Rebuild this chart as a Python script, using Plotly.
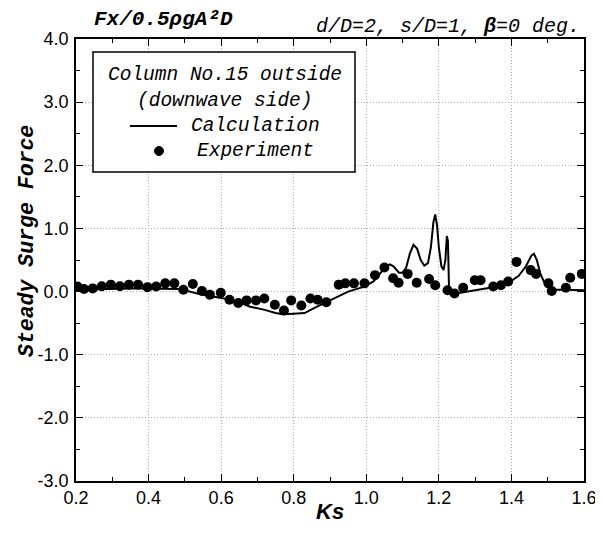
import plotly.graph_objects as go

# Experiment (Ks, steady surge force)
exp_ks = [0.204, 0.222, 0.246, 0.271, 0.296, 0.321, 0.346, 0.371, 0.397, 0.421,
          0.446, 0.471, 0.496, 0.522, 0.547, 0.569, 0.599, 0.623, 0.647, 0.670,
          0.696, 0.719, 0.748, 0.773, 0.793, 0.821, 0.846, 0.866, 0.890, 0.924,
          0.942, 0.966, 0.995, 1.024, 1.050, 1.074, 1.089, 1.114, 1.139, 1.173,
          1.190, 1.224, 1.243, 1.267, 1.299, 1.315, 1.350, 1.371, 1.391, 1.414,
          1.453, 1.468, 1.502, 1.511, 1.550, 1.562, 1.594]
exp_val = [0.08, 0.04, 0.05, 0.085, 0.11, 0.085, 0.11, 0.11, 0.07, 0.08,
           0.13, 0.13, 0.03, 0.12, 0.01, -0.05, -0.02, -0.13, -0.18, -0.14,
           -0.14, -0.11, -0.21, -0.30, -0.14, -0.22, -0.11, -0.13, -0.17, 0.11,
           0.13, 0.13, 0.13, 0.26, 0.38, 0.21, 0.14, 0.28, 0.14, 0.20,
           0.10, 0.02, -0.03, 0.06, 0.18, 0.18, 0.08, 0.10, 0.16, 0.47,
           0.34, 0.28, 0.13, 0.01, 0.06, 0.22, 0.28]

# Calculation
calc_ks = [0.20, 0.25, 0.30, 0.35, 0.40, 0.45, 0.48, 0.50, 0.54, 0.60,
           0.65, 0.68, 0.72, 0.75, 0.77, 0.80, 0.83, 0.86, 0.89, 0.92,
           0.95, 0.99, 1.02, 1.04, 1.055, 1.065, 1.075, 1.09, 1.10, 1.11,
           1.12, 1.13, 1.14, 1.15, 1.16, 1.17, 1.178, 1.185, 1.19, 1.195,
           1.20, 1.207, 1.213, 1.218, 1.222, 1.225, 1.228, 1.235, 1.26, 1.30,
           1.35, 1.39, 1.42, 1.44, 1.455, 1.462, 1.47, 1.48, 1.49, 1.50,
           1.52, 1.55, 1.58, 1.60]
calc_val = [0.03, 0.04, 0.05, 0.05, 0.05, 0.05, 0.04, 0.02, -0.04, -0.10,
            -0.17, -0.24, -0.29, -0.34, -0.36, -0.35, -0.34, -0.25, -0.17, -0.09,
            0.00, 0.07, 0.16, 0.30, 0.40, 0.43, 0.40, 0.30, 0.30, 0.38,
            0.60, 0.74, 0.68, 0.50, 0.41, 0.45, 0.70, 1.10, 1.22, 1.05,
            0.70, 0.40, 0.34, 0.50, 0.88, 0.80, 0.05, -0.03, -0.02, 0.02,
            0.07, 0.13, 0.25, 0.40, 0.57, 0.60, 0.50, 0.28, 0.15, 0.07,
            0.03, 0.03, 0.02, 0.02]

x_ticks = [0.2, 0.4, 0.6, 0.8, 1.0, 1.2, 1.4, 1.6]
y_ticks = [-3.0, -2.0, -1.0, 0.0, 1.0, 2.0, 3.0, 4.0]
x_labels = [f"{v:.1f}" for v in x_ticks]
y_labels = [f"{v:.1f}" for v in y_ticks]

MONO = "Liberation Mono, Courier New, monospace"
SANS = "Liberation Sans, Arial, Helvetica, sans-serif"

fig = go.Figure()
fig.add_trace(go.Scatter(x=calc_ks, y=calc_val, mode="lines",
                         line=dict(color="black", width=2), showlegend=False))
fig.add_trace(go.Scatter(x=exp_ks, y=exp_val, mode="markers",
                         marker=dict(color="black", size=10, symbol="circle"),
                         showlegend=False))

axis_common = dict(
    showline=True, linecolor="black", linewidth=1.5, mirror="ticks",
    ticks="inside", ticklen=7, tickwidth=1, tickcolor="black",
    showgrid=True, gridcolor="#aaaaaa", griddash="1px,2px", gridwidth=1,
    zeroline=False,
    tickfont=dict(family=SANS, size=18, color="black"),
)

fig.update_xaxes(range=[0.2, 1.6], tickvals=x_ticks, ticktext=x_labels,
                 ticklabelstandoff=0,
                 minor=dict(ticks="inside", ticklen=4, dtick=0.1, tick0=0.2,
                            tickcolor="black", showgrid=False),
                 **axis_common)
fig.update_yaxes(range=[-3.0, 4.0], tickvals=y_ticks, ticktext=y_labels,
                 ticklabelstandoff=2,
                 minor=dict(ticks="inside", ticklen=4, dtick=0.5, tick0=0,
                            tickcolor="black", showgrid=False),
                 **axis_common)

# plot area on screen (the page body adds an 8px offset)
OFF = 8
SL, SR, ST, SB = 76, 584, 39, 481
PW, PH = SR - SL, SB - ST

def px(x):
    return (x - SL) / PW

def py(y):
    return (SB - y) / PH

def note(text, x, y, xa, font, angle=0):
    return dict(text=text, x=px(x), y=py(y), xref="paper", yref="paper",
                xanchor=xa, yanchor="middle", showarrow=False, textangle=angle,
                font=font)

f_mono = dict(family=MONO, size=19.5, color="black")
ann = [
    note("<b><i>Fx/0.5ρgA²D</i></b>", 92, 20, "left",
         dict(family=MONO, size=21, color="black")),
    note("<i>d/D=2, s/D=1, <b>β</b>=0 deg.</i>", 582, 26, "right",
         dict(family=MONO, size=20, color="black")),
    note("<b><i>Steady Surge Force</i></b>", 27, 241, "center",
         dict(family=MONO, size=21.5, color="black"), angle=-90),
    note("<b><i>Ks</i></b>", 330, 511, "center",
         dict(family=SANS, size=22, color="black")),
    note("<i>Column No.15 outside</i>", 225, 75, "center", f_mono),
    note("<i>(downwave side)</i>", 225, 101, "center", f_mono),
    note("<i>Calculation</i>", 189, 126, "left", f_mono),
    note("<i>Experiment</i>", 195, 151, "left", f_mono),
]

shapes = [
    dict(type="rect", xref="paper", yref="paper", x0=px(93), x1=px(355),
         y0=py(172), y1=py(52), line=dict(color="black", width=1.5),
         fillcolor="white", layer="above"),
    dict(type="line", xref="paper", yref="paper", x0=px(130), x1=px(177),
         y0=py(126), y1=py(126), line=dict(color="black", width=2), layer="above"),
    dict(type="circle", xref="paper", yref="paper", xsizemode="pixel",
         ysizemode="pixel", xanchor=px(159), yanchor=py(151),
         x0=-4.5, x1=4.5, y0=-4.5, y1=4.5,
         fillcolor="black", line=dict(color="black", width=1), layer="above"),
]

W, H = 603, 536
fig.update_layout(
    width=W, height=H,
    margin=dict(l=SL - OFF, r=W - (SR - OFF), t=ST - OFF, b=H - (SB - OFF),
                autoexpand=False),
    paper_bgcolor="white", plot_bgcolor="white",
    annotations=ann, shapes=shapes, showlegend=False,
)

fig.write_html("out.html")
